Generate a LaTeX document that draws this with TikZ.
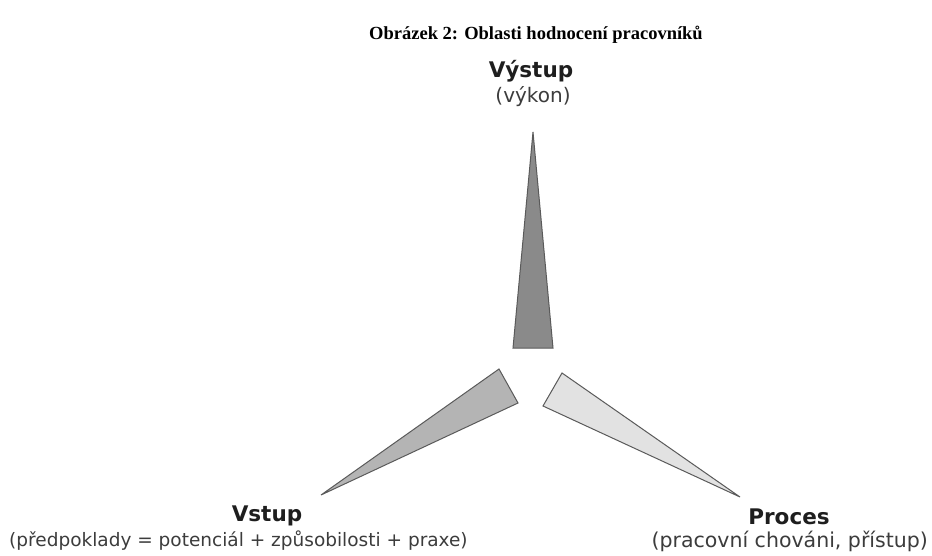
\documentclass[tikz,border=0pt]{standalone}
\usepackage{fontspec}
\setmainfont{Liberation Serif}
\newfontfamily\labelfont{DejaVu Sans}
\definecolor{topgray}{HTML}{8A8A8A}
\definecolor{leftgray}{HTML}{B4B4B4}
\definecolor{rightgray}{HTML}{E2E2E2}
\definecolor{edgegray}{HTML}{5A5A5A}
\definecolor{txtdark}{HTML}{1E1E1E}
\definecolor{txtsub}{HTML}{3C3C3C}
\begin{document}
\begin{tikzpicture}[x=1pt,y=-1pt,
  wedge/.style={draw=edgegray,line width=1pt,line join=miter},
  heading/.style={font=\labelfont\bfseries\fontsize{21.5}{24}\selectfont,text=txtdark,inner sep=0pt},
  subline/.style={font=\labelfont\fontsize{20}{23}\selectfont,text=txtsub,inner sep=0pt},
  titlestyle/.style={font=\bfseries\fontsize{18.5}{21}\selectfont,inner sep=0pt}]
\useasboundingbox (0,0) rectangle (932,556);
\fill[white] (0,0) rectangle (932,556);
% title
\node[titlestyle] (title) at (536,35) {Obrázek 2: Oblasti hodnocení pracovníků};
% wedges
\coordinate (topapex) at (533,132);
\coordinate (topbl) at (513,348);
\coordinate (topbr) at (553,348);
\coordinate (lefttip) at (321,495);
\coordinate (leftb1) at (499,369);
\coordinate (leftb2) at (518,403);
\coordinate (righttip) at (740,497);
\coordinate (rightb1) at (562,373);
\coordinate (rightb2) at (543,406);
\draw[wedge,fill=topgray] (topapex) -- (topbr) -- (topbl) -- cycle;
\draw[wedge,fill=leftgray] (lefttip) -- (leftb1) -- (leftb2) -- cycle;
\draw[wedge,fill=rightgray] (righttip) -- (rightb1) -- (rightb2) -- cycle;
% labels
\node[heading] (outh) at (531,71) {Výstup};
\node[subline] (outs) at (533,97) {(výkon)};
\node[heading] (inh) at (267,516) {Vstup};
\node[subline,anchor=west,font=\labelfont\fontsize{18.5}{22}\selectfont] (ins) at (9,541) {(předpoklady = potenciál + způsobilosti + praxe)};
\node[heading] (proch) at (789,517) {Proces};
\node[subline,anchor=east,font=\labelfont\fontsize{20.5}{23}\selectfont] (procs) at (928,541) {(pracovní chováni, přístup)};
\end{tikzpicture}
\end{document}
